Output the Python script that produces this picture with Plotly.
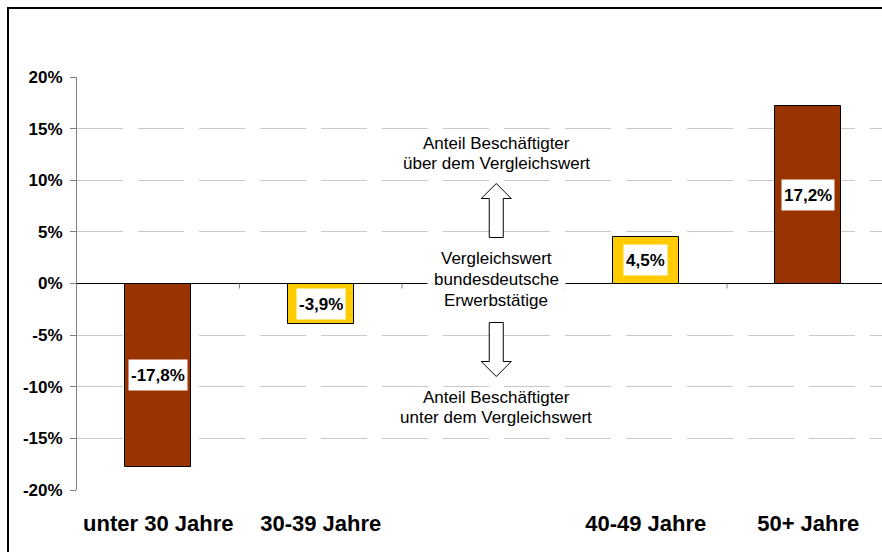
import plotly.graph_objects as go

# ---- data ----
categories = ["unter 30 Jahre", "30-39 Jahre", "", "40-49 Jahre", "50+ Jahre"]
bar_positions = [0, 1, 3, 4]
bar_values = [-17.8, -3.9, 4.5, 17.2]
bar_colors = ["#993300", "#FFCC00", "#FFCC00", "#993300"]
y_tickvals = [-20, -15, -10, -5, 0, 5, 10, 15, 20]
y_ticktext = ["-20%", "-15%", "-10%", "-5%", "0%", "5%", "10%", "15%", "20%"]
upper_text = ["Anteil Beschäftigter", "über dem Vergleichswert"]
middle_text = ["Vergleichswert", "bundesdeutsche", "Erwerbstätige"]
lower_text = ["Anteil Beschäftigter", "unter dem Vergleichswert"]

FONT = "Arial, 'Liberation Sans', sans-serif"

# page geometry (body margin removed, so figure pixels == page pixels)
W, H = 882, 552
PLOT_L, PLOT_T, PLOT_B = 77, 77, 490
ML, MT, MB, MR = PLOT_L, PLOT_T, H - PLOT_B, 0
PW, PH = W - ML - MR, PLOT_B - PLOT_T
SLOT = 162.5
x_range = [-0.5, -0.5 + PW / SLOT]
y_range = [-20, 20]
PX_PER_UNIT = PH / 40.0


def py_to_y(py):
    return (PLOT_B - py) / PX_PER_UNIT + y_range[0]


def px_to_paper(px):
    return (px - PLOT_L) / PW


def py_to_paper(py):
    return (PLOT_B - py) / PH


labels = [f"{v:.1f}%".replace(".", ",") for v in bar_values]

fig = go.Figure()
fig.add_trace(go.Bar(
    x=bar_positions, y=bar_values, width=0.406,
    marker=dict(color=bar_colors, line=dict(color="black", width=1)),
    hoverinfo="skip", showlegend=False,
))

annotations = []
for xp, v, t in zip(bar_positions, bar_values, labels):
    annotations.append(dict(
        x=xp, y=v / 2, xref="x", yref="y", text=f"<b>{t}</b>", showarrow=False,
        font=dict(family=FONT, size=17, color="black"), bgcolor="white",
        borderpad=2, height=26, xanchor="center", yanchor="middle",
    ))

XSH = 13
TXT_FONT = dict(family=FONT, size=17, color="black")
for txt, py in zip(upper_text, [143, 163]):
    annotations.append(dict(x=2, y=py_to_y(py), xref="x", yref="y", xshift=XSH,
                            text=txt, showarrow=False, font=TXT_FONT,
                            xanchor="center", yanchor="middle"))
for txt, py in zip(lower_text, [397, 417]):
    annotations.append(dict(x=2, y=py_to_y(py), xref="x", yref="y", xshift=XSH,
                            text=txt, showarrow=False, font=TXT_FONT,
                            xanchor="center", yanchor="middle"))
for i, (txt, py) in enumerate(zip(middle_text, [258, 279, 300])):
    a = dict(x=2, y=py_to_y(py), xref="x", yref="y", xshift=XSH,
             text=txt, showarrow=False, font=TXT_FONT,
             xanchor="center", yanchor="middle")
    if i == 1:
        a.update(bgcolor="white", width=137, height=18, borderpad=0)
    annotations.append(a)

shapes = []
# outer frame (top and left edges visible)
shapes.append(dict(type="line", xref="paper", yref="paper",
                   x0=px_to_paper(8), x1=px_to_paper(8),
                   y0=py_to_paper(7), y1=py_to_paper(600),
                   line=dict(color="black", width=2)))
shapes.append(dict(type="line", xref="paper", yref="paper",
                   x0=px_to_paper(7), x1=px_to_paper(900),
                   y0=py_to_paper(8), y1=py_to_paper(8),
                   line=dict(color="black", width=2)))
# arrows
c = XSH
up = (f"M {c-7},46 L {c-7},85 L {c-15},85 L {c},100 L {c+15},85 "
      f"L {c+7},85 L {c+7},46 Z")
down = (f"M {c-7},-39 L {c-7},-78 L {c-15},-78 L {c},-93 L {c+15},-78 "
        f"L {c+7},-78 L {c+7},-39 Z")
for p in (up, down):
    shapes.append(dict(type="path", xref="x", yref="y", xsizemode="pixel",
                       ysizemode="pixel", xanchor=2, yanchor=0, path=p,
                       line=dict(color="black", width=1), fillcolor="white",
                       layer="above"))
# category boundary ticks on zero line
for b in [0.5, 1.5, 2.5, 3.5]:
    shapes.append(dict(type="line", xref="x", yref="y", ysizemode="pixel",
                       yanchor=0, x0=b, x1=b, y0=0, y1=-5,
                       line=dict(color="#808080", width=1)))

fig.update_layout(
    width=W, height=H,
    margin=dict(l=ML, r=MR, t=MT, b=MB, pad=0),
    paper_bgcolor="white", plot_bgcolor="white",
    bargap=0,
    annotations=annotations, shapes=shapes,
    xaxis=dict(range=x_range, tickvals=list(range(len(categories))),
               ticktext=[f"<b>{c_}</b>" for c_ in categories],
               tickfont=dict(family=FONT, size=22, color="black"),
               showgrid=False, zeroline=False, showline=False, ticks="",
               ticklabelstandoff=18, fixedrange=True),
    yaxis=dict(range=y_range, tickvals=y_tickvals,
               ticktext=[f"<b>{t}</b>" for t in y_ticktext],
               tickfont=dict(family=FONT, size=17, color="black"),
               showgrid=True, gridcolor="#c8c8c8", gridwidth=1,
               griddash="46px,15px",
               zeroline=True, zerolinecolor="black", zerolinewidth=1,
               showline=True, linecolor="#808080", linewidth=1,
               ticks="outside", ticklen=6, tickcolor="#808080",
               ticklabelstandoff=4, fixedrange=True),
)

fig.write_html(
    "out.html",
    config={"displayModeBar": False},
    post_script=("document.body.style.margin='0';"
                 "document.documentElement.style.overflow='hidden';"),
)
